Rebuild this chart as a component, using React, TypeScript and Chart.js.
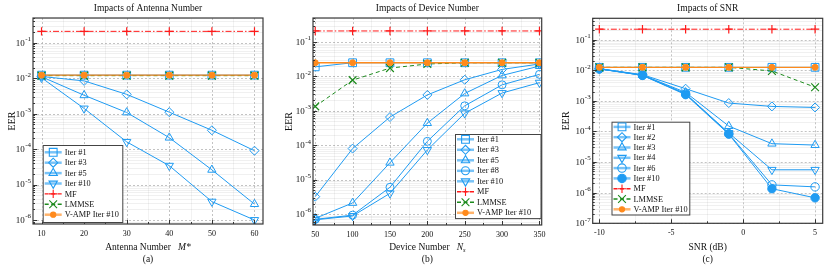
import React, { useEffect, useRef } from 'react';
import { Chart, registerables } from 'chart.js';

Chart.register(...registerables);

const SERIF = "'Liberation Serif', 'Times New Roman', Times, serif";
const BLUE = '#1f9bf2';
const BLUE_LEG = 'rgba(31,155,242,0.6)';
const RED = '#ff1a1a';
const GREEN = '#1d8a1d';
const ORANGE = '#ff8a1c';
const ORANGE_LEG = 'rgba(255,138,28,0.65)';
const H = 267;

// ---------- Panel (a): Impacts of Antenna Number ----------
const antennaX = [10, 20, 30, 40, 50, 60];
const antennaTicks = [10, 20, 30, 40, 50, 60];
const aIter1 = [0.0122, 0.0122, 0.0122, 0.0122, 0.0122, 0.0122];
const aIter3 = [0.0112, 0.0084, 0.0035, 0.0011, 0.00034, 0.00009];
const aIter5 = [0.011, 0.0033, 0.00108, 0.00021, 0.000026, 0.0000028];
const aIter10 = [0.0103, 0.0014, 0.00016, 0.000034, 0.0000033, 0.000001];
const aMF = [0.21, 0.21, 0.21, 0.21, 0.21, 0.21];
const aLMMSE = [0.0118, 0.0118, 0.0118, 0.0118, 0.0118, 0.0118];
const aVAMP = [0.0122, 0.0122, 0.0122, 0.0122, 0.0122, 0.0122];

// ---------- Panel (b): Impacts of Device Number ----------
const deviceX = [50, 100, 150, 200, 250, 300, 350];
const deviceTicks = [50, 100, 150, 200, 250, 300, 350];
const bIter1 = [0.019, 0.025, 0.025, 0.025, 0.025, 0.025, 0.025];
const bIter3 = [0.0000032, 0.00008, 0.00066, 0.0029, 0.008, 0.016, 0.023];
const bIter5 = [0.00000075, 0.0000021, 0.000031, 0.00044, 0.0032, 0.0107, 0.02];
const bIter8 = [0.0000007, 0.00000093, 0.000006, 0.00013, 0.0014, 0.0057, 0.0115];
const bIter10 = [0.00000068, 0.00000088, 0.000004, 0.000073, 0.00085, 0.0033, 0.0066];
const bMF = [0.21, 0.21, 0.21, 0.21, 0.21, 0.21, 0.21];
const bLMMSE = [0.00135, 0.0078, 0.0175, 0.023, 0.025, 0.025, 0.025];
const bVAMP = [0.025, 0.025, 0.025, 0.025, 0.025, 0.025, 0.025];

// ---------- Panel (c): Impacts of SNR ----------
const snrX = [-10, -7, -4, -1, 2, 5];
const snrTicks = [-10, -5, 0, 5];
const cIter1 = [0.0125, 0.0125, 0.0125, 0.0125, 0.0125, 0.0125];
const cIter2 = [0.0113, 0.0072, 0.0025, 0.00085, 0.00066, 0.00061];
const cIter3 = [0.0112, 0.007, 0.0019, 0.00015, 0.00004, 0.000036];
const cIter4 = [0.0112, 0.0069, 0.0017, 0.00009, 0.0000056, 0.0000056];
const cIter6 = [0.0111, 0.0069, 0.0017, 0.000085, 0.0000018, 0.00000155];
const cIter10 = [0.0111, 0.0068, 0.0016, 0.000082, 0.00000135, 0.00000068];
const cMF = [0.22, 0.22, 0.22, 0.22, 0.22, 0.22];
const cLMMSE = [0.0125, 0.0125, 0.0125, 0.0125, 0.0095, 0.0028];
const cVAMP = [0.0125, 0.0125, 0.0125, 0.0125, 0.0125, 0.0125];

type Series = { label: string; data: number[]; kind: 'iter' | 'mf' | 'lmmse' | 'vamp'; marker?: string; rot?: number; filled?: boolean; r?: number };

function makeDataset(xs: number[], s: Series) {
  const data = xs.map((x, i) => ({ x, y: s.data[i] }));
  if (s.kind === 'iter') {
    return {
      label: s.label, data, borderColor: BLUE, borderWidth: 1,
      pointStyle: s.marker, pointRotation: s.rot || 0, pointRadius: s.r || 4.5,
      pointBorderColor: BLUE, pointBackgroundColor: s.filled ? BLUE : 'rgba(255,255,255,0)',
      pointBorderWidth: 1, order: 10,
      _leg: { color: BLUE_LEG, lw: 2.5, dash: [] as number[], marker: s.marker, rot: s.rot || 0, r: s.r || 4.5, fill: s.filled ? BLUE : 'rgba(255,255,255,0)', stroke: BLUE },
    };
  }
  if (s.kind === 'mf') {
    return {
      label: s.label, data, borderColor: RED, borderWidth: 1, borderDash: [6, 2, 1.5, 2],
      pointStyle: 'cross', pointRadius: 4.2, pointBorderColor: RED, pointBorderWidth: 1.2, order: 3,
      _leg: { color: RED, lw: 1.4, dash: [4, 2.5], marker: 'cross', rot: 0, r: 4.2, fill: RED, stroke: RED },
    };
  }
  if (s.kind === 'lmmse') {
    return {
      label: s.label, data, borderColor: GREEN, borderWidth: 1, borderDash: [4, 3],
      pointStyle: 'crossRot', pointRadius: 5.5, pointBorderColor: GREEN, pointBorderWidth: 1.2, order: 2,
      _leg: { color: GREEN, lw: 1.6, dash: [4, 2.5], marker: 'crossRot', rot: 0, r: 5.5, fill: GREEN, stroke: GREEN },
    };
  }
  return {
    label: s.label, data, borderColor: ORANGE, borderWidth: 1.3,
    pointStyle: 'circle', pointRadius: 3, pointBorderColor: ORANGE, pointBackgroundColor: ORANGE, pointBorderWidth: 1, order: 1,
    _leg: { color: ORANGE_LEG, lw: 2.5, dash: [] as number[], marker: 'circle', rot: 0, r: 2.6, fill: ORANGE, stroke: ORANGE },
  };
}

function drawMarker(ctx: CanvasRenderingContext2D, style: string, r: number, rot: number, x: number, y: number, fill: string, stroke: string, lw: number) {
  ctx.save();
  ctx.beginPath();
  ctx.setLineDash([]);
  ctx.lineWidth = lw;
  ctx.strokeStyle = stroke;
  ctx.fillStyle = fill;
  let a = (rot * Math.PI) / 180;
  switch (style) {
    case 'circle':
      ctx.arc(x, y, r, 0, Math.PI * 2);
      ctx.closePath();
      break;
    case 'rect': {
      const s = Math.SQRT1_2 * r;
      ctx.rect(x - s, y - s, 2 * s, 2 * s);
      break;
    }
    case 'rectRot':
      ctx.moveTo(x - r, y); ctx.lineTo(x, y - r); ctx.lineTo(x + r, y); ctx.lineTo(x, y + r); ctx.closePath();
      break;
    case 'triangle':
      ctx.moveTo(x + Math.sin(a) * r, y - Math.cos(a) * r);
      a += (2 * Math.PI) / 3;
      ctx.lineTo(x + Math.sin(a) * r, y - Math.cos(a) * r);
      a += (2 * Math.PI) / 3;
      ctx.lineTo(x + Math.sin(a) * r, y - Math.cos(a) * r);
      ctx.closePath();
      break;
    case 'cross':
      ctx.moveTo(x, y - r); ctx.lineTo(x, y + r); ctx.moveTo(x - r, y); ctx.lineTo(x + r, y);
      break;
    case 'crossRot': {
      const s = Math.SQRT1_2 * r;
      ctx.moveTo(x - s, y - s); ctx.lineTo(x + s, y + s); ctx.moveTo(x - s, y + s); ctx.lineTo(x + s, y - s);
      break;
    }
  }
  if (style !== 'cross' && style !== 'crossRot') ctx.fill();
  ctx.stroke();
  ctx.restore();
}

type TitlePart = { t: string; italic?: boolean; sub?: boolean };

type PanelCfg = {
  left: number; width: number; padL: number; padR: number; padT: number; yAxisW: number; xAxisH: number;
  xs: number[]; xTicks: number[]; xMinorStep: number; xMin: number; xMax: number; yMin: number; yMax: number;
  series: Series[]; title: string; xTitle: TitlePart[]; caption: string; eerDx: number;
  legend: { dx: number; dy: number; w: number; rowH: number; padTop: number };
};

const panels: PanelCfg[] = [
  {
    left: 0, width: 277, padL: 8, padR: 14, padT: 18, yAxisW: 25, xAxisH: 43,
    xs: antennaX, xTicks: antennaTicks, xMinorStep: 5, xMin: 8, xMax: 62, yMin: 7.7e-7, yMax: 0.5,
    series: [
      { label: 'Iter #1', data: aIter1, kind: 'iter', marker: 'rect', r: 5.5 },
      { label: 'Iter #3', data: aIter3, kind: 'iter', marker: 'rectRot', r: 4.5 },
      { label: 'Iter #5', data: aIter5, kind: 'iter', marker: 'triangle', r: 4.8 },
      { label: 'Iter #10', data: aIter10, kind: 'iter', marker: 'triangle', rot: 180, r: 4.8 },
      { label: 'MF', data: aMF, kind: 'mf' },
      { label: 'LMMSE', data: aLMMSE, kind: 'lmmse' },
      { label: 'V-AMP Iter #10', data: aVAMP, kind: 'vamp' },
    ],
    title: 'Impacts of Antenna Number',
    xTitle: [{ t: 'Antenna Number   ' }, { t: 'M*', italic: true }],
    caption: '(a)', eerDx: -21,
    legend: { dx: 9.7, dy: 127, w: 79.6, rowH: 10.4, padTop: 7.3 },
  },
  {
    left: 277, width: 277, padL: 8, padR: 12.3, padT: 18, yAxisW: 28, xAxisH: 42,
    xs: deviceX, xTicks: deviceTicks, xMinorStep: 25, xMin: 47, xMax: 353, yMin: 4.8e-7, yMax: 0.5,
    series: [
      { label: 'Iter #1', data: bIter1, kind: 'iter', marker: 'rect', r: 5.5 },
      { label: 'Iter #3', data: bIter3, kind: 'iter', marker: 'rectRot', r: 4.5 },
      { label: 'Iter #5', data: bIter5, kind: 'iter', marker: 'triangle', r: 4.8 },
      { label: 'Iter #8', data: bIter8, kind: 'iter', marker: 'circle', r: 4 },
      { label: 'Iter #10', data: bIter10, kind: 'iter', marker: 'triangle', rot: 180, r: 4.8 },
      { label: 'MF', data: bMF, kind: 'mf' },
      { label: 'LMMSE', data: bLMMSE, kind: 'lmmse' },
      { label: 'V-AMP Iter #10', data: bVAMP, kind: 'vamp' },
    ],
    title: 'Impacts of Device Number',
    xTitle: [{ t: 'Device Number   ' }, { t: 'N', italic: true }, { t: 's', italic: true, sub: true }],
    caption: '(b)', eerDx: -24,
    legend: { dx: 142, dy: 116, w: 85.5, rowH: 10.5, padTop: 5.3 },
  },
  {
    left: 554, width: 276, padL: 10, padR: 7.3, padT: 18.3, yAxisW: 28.7, xAxisH: 43.7,
    xs: snrX, xTicks: snrTicks, xMinorStep: 2.5, xMin: -10.46, xMax: 5.53, yMin: 1e-7, yMax: 0.5,
    series: [
      { label: 'Iter #1', data: cIter1, kind: 'iter', marker: 'rect', r: 5.5 },
      { label: 'Iter #2', data: cIter2, kind: 'iter', marker: 'rectRot', r: 4.5 },
      { label: 'Iter #3', data: cIter3, kind: 'iter', marker: 'triangle', r: 4.8 },
      { label: 'Iter #4', data: cIter4, kind: 'iter', marker: 'triangle', rot: 180, r: 4.8 },
      { label: 'Iter #6', data: cIter6, kind: 'iter', marker: 'circle', r: 4.2 },
      { label: 'Iter #10', data: cIter10, kind: 'iter', marker: 'circle', filled: true, r: 4.2 },
      { label: 'MF', data: cMF, kind: 'mf' },
      { label: 'LMMSE', data: cLMMSE, kind: 'lmmse' },
      { label: 'V-AMP Iter #10', data: cVAMP, kind: 'vamp' },
    ],
    title: 'Impacts of SNR',
    xTitle: [{ t: 'SNR (dB)' }],
    caption: '(c)', eerDx: -26.7,
    legend: { dx: 18.8, dy: 103.4, w: 77.8, rowH: 10.3, padTop: 5.2 },
  },
];

function logValues(min: number, max: number) {
  const out: { v: number; major: boolean; e: number }[] = [];
  for (let e = Math.floor(Math.log10(min)); e <= Math.ceil(Math.log10(max)); e++) {
    for (let m = 1; m <= 9; m++) {
      const v = m * Math.pow(10, e);
      if (v >= min * 0.9999 && v <= max * 1.0001) out.push({ v, major: m === 1, e });
    }
  }
  return out;
}

function makePlugin(cfg: PanelCfg) {
  return {
    id: 'frameDecor',
    beforeDatasetsDraw(chart: any) {
      const { ctx, chartArea: a, scales } = chart;
      const x = scales.x, y = scales.y;
      ctx.save();
      for (const t of logValues(cfg.yMin, cfg.yMax)) {
        const py = Math.round(y.getPixelForValue(t.v)) + 0.5;
        ctx.beginPath();
        if (t.major) {
          ctx.strokeStyle = '#b4b4b4';
          ctx.setLineDash([2, 2]);
          ctx.lineWidth = 0.8;
        } else {
          ctx.strokeStyle = 'rgba(0,0,0,0.06)';
          ctx.setLineDash([]);
          ctx.lineWidth = 1;
        }
        ctx.moveTo(a.left, py);
        ctx.lineTo(a.right, py);
        ctx.stroke();
      }
      const x0 = Math.ceil(cfg.xMin / cfg.xMinorStep) * cfg.xMinorStep;
      for (let v = x0; v <= cfg.xMax + 1e-9; v += cfg.xMinorStep) {
        const major = cfg.xTicks.some((t) => Math.abs(t - v) < 1e-9);
        const px = Math.round(x.getPixelForValue(v)) + 0.5;
        ctx.beginPath();
        if (major) {
          ctx.strokeStyle = '#b4b4b4';
          ctx.setLineDash([2, 2]);
          ctx.lineWidth = 0.8;
        } else {
          ctx.strokeStyle = 'rgba(0,0,0,0.05)';
          ctx.setLineDash([]);
          ctx.lineWidth = 1;
        }
        ctx.moveTo(px, a.top);
        ctx.lineTo(px, a.bottom);
        ctx.stroke();
      }
      ctx.restore();
    },
    afterDatasetsDraw(chart: any) {
      const { ctx, chartArea: a, scales } = chart;
      const x = scales.x, y = scales.y;
      ctx.save();
      ctx.setLineDash([]);
      ctx.strokeStyle = '#333';
      ctx.lineWidth = 1;
      for (const t of logValues(cfg.yMin, cfg.yMax)) {
        const py = Math.round(y.getPixelForValue(t.v)) + 0.5;
        const len = t.major ? 4 : 2;
        ctx.beginPath();
        ctx.moveTo(a.left, py);
        ctx.lineTo(a.left + len, py);
        ctx.stroke();
      }
      const x0 = Math.ceil(cfg.xMin / cfg.xMinorStep) * cfg.xMinorStep;
      for (let v = x0; v <= cfg.xMax + 1e-9; v += cfg.xMinorStep) {
        const major = cfg.xTicks.some((t) => Math.abs(t - v) < 1e-9);
        const px = Math.round(x.getPixelForValue(v)) + 0.5;
        const len = major ? 4 : 2;
        ctx.beginPath();
        ctx.moveTo(px, a.bottom);
        ctx.lineTo(px, a.bottom - len);
        ctx.stroke();
      }
      ctx.strokeStyle = '#3a3a3a';
      ctx.lineWidth = 1.2;
      ctx.strokeRect(a.left, a.top, a.right - a.left, a.bottom - a.top);

      const L = cfg.legend;
      const ds = chart.data.datasets;
      const lx = a.left + L.dx, ly = a.top + L.dy;
      const lh = L.padTop * 2 + (ds.length - 1) * L.rowH;
      ctx.fillStyle = '#fff';
      ctx.fillRect(lx, ly, L.w, lh);
      ctx.strokeStyle = '#444';
      ctx.lineWidth = 1;
      ctx.strokeRect(lx + 0.5, ly + 0.5, L.w, lh);
      ds.forEach((d: any, i: number) => {
        const g = d._leg;
        const cy = ly + L.padTop + i * L.rowH;
        ctx.beginPath();
        ctx.strokeStyle = g.color;
        ctx.lineWidth = g.lw;
        ctx.setLineDash(g.dash);
        ctx.moveTo(lx + 2, cy);
        ctx.lineTo(lx + 19, cy);
        ctx.stroke();
        ctx.setLineDash([]);
        drawMarker(ctx, g.marker, g.r, g.rot, lx + 10.5, cy, g.fill, g.stroke, 1.1);
        ctx.fillStyle = '#111';
        ctx.font = `8.3px ${SERIF}`;
        ctx.textAlign = 'left';
        ctx.textBaseline = 'middle';
        ctx.fillText(d.label, lx + 22, cy + 0.5);
      });
      ctx.restore();
    },
    afterDraw(chart: any) {
      const { ctx, chartArea: a, scales } = chart;
      const y = scales.y;
      const cx = (a.left + a.right) / 2;
      ctx.save();
      ctx.fillStyle = '#111';
      for (const t of logValues(cfg.yMin, cfg.yMax)) {
        if (!t.major) continue;
        const py = y.getPixelForValue(t.v);
        const exp = String(t.e);
        ctx.font = `7px ${SERIF}`;
        const ew = ctx.measureText(exp).width;
        const right = a.left - 2;
        ctx.textAlign = 'left';
        ctx.textBaseline = 'middle';
        ctx.fillText(exp, right - ew, py - 3.5);
        ctx.font = `9px ${SERIF}`;
        ctx.textAlign = 'right';
        ctx.fillText('10', right - ew - 0.3, py + 0.5);
      }
      ctx.font = `9.5px ${SERIF}`;
      ctx.textAlign = 'center';
      ctx.textBaseline = 'middle';
      ctx.fillText(cfg.title, cx, 8);
      ctx.save();
      ctx.translate(a.left + cfg.eerDx, (a.top + a.bottom) / 2);
      ctx.rotate(-Math.PI / 2);
      ctx.font = `10px ${SERIF}`;
      ctx.textAlign = 'center';
      ctx.textBaseline = 'middle';
      ctx.fillText('EER', 0, 0);
      ctx.restore();
      const parts = cfg.xTitle.map((p) => {
        const size = p.sub ? 6.5 : 9.5;
        const font = `${p.italic ? 'italic ' : ''}${size}px ${SERIF}`;
        ctx.font = font;
        return { ...p, font, w: ctx.measureText(p.t).width };
      });
      const total = parts.reduce((s, p) => s + p.w, 0);
      let px = cx - total / 2;
      ctx.textAlign = 'left';
      ctx.textBaseline = 'middle';
      for (const p of parts) {
        ctx.font = p.font;
        ctx.fillText(p.t, px, p.sub ? 250 : 247);
        px += p.w;
      }
      ctx.font = `9.5px ${SERIF}`;
      ctx.textAlign = 'center';
      ctx.fillText(cfg.caption, cx, 259);
      ctx.restore();
    },
  };
}

function Panel({ cfg }: { cfg: PanelCfg }) {
  const ref = useRef<HTMLCanvasElement>(null);
  useEffect(() => {
    const datasets = cfg.series.map((s) => makeDataset(cfg.xs, s));
    const chart = new Chart(ref.current as HTMLCanvasElement, {
      type: 'line',
      data: { datasets: datasets as any },
      options: {
        animation: false,
        responsive: false,
        devicePixelRatio: 1,
        events: [],
        layout: { padding: { left: cfg.padL, right: cfg.padR, top: cfg.padT, bottom: 0 } },
        plugins: { legend: { display: false }, tooltip: { enabled: false }, title: { display: false } },
        scales: {
          x: {
            type: 'linear',
            min: cfg.xMin,
            max: cfg.xMax,
            grid: { display: false, drawTicks: false },
            border: { display: false },
            afterBuildTicks: (s: any) => {
              s.ticks = cfg.xTicks.map((v) => ({ value: v }));
            },
            afterFit: (s: any) => {
              s.height = cfg.xAxisH;
            },
            ticks: {
              autoSkip: false,
              maxRotation: 0,
              padding: 5,
              color: '#111',
              font: { family: SERIF, size: 8 },
              callback: (v: any) => String(v),
            },
          },
          y: {
            type: 'logarithmic',
            min: cfg.yMin,
            max: cfg.yMax,
            grid: { display: false, drawTicks: false },
            border: { display: false },
            ticks: { display: false },
            afterFit: (s: any) => {
              s.width = cfg.yAxisW;
            },
          },
        },
      } as any,
      plugins: [makePlugin(cfg)],
    });
    return () => chart.destroy();
  }, []);
  return (
    <div style={{ position: 'absolute', left: cfg.left, top: 0, width: cfg.width, height: H }}>
      <canvas ref={ref} width={cfg.width} height={H} style={{ display: 'block', width: cfg.width, height: H }} />
    </div>
  );
}

export default function App() {
  return (
    <div style={{ position: 'absolute', left: 0, top: 0, width: 830, height: H, background: '#fff', overflow: 'hidden' }}>
      {panels.map((p, i) => (
        <Panel key={i} cfg={p} />
      ))}
    </div>
  );
}
